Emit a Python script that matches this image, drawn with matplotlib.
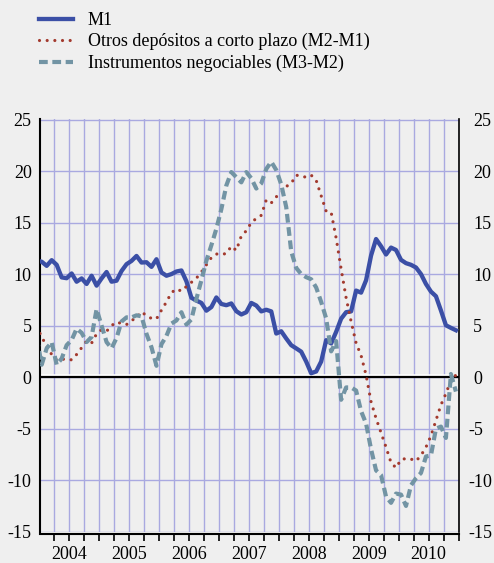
import numpy as np
import matplotlib
matplotlib.use('Agg')
import matplotlib.pyplot as plt
import matplotlib.transforms as mtransforms
from matplotlib.ticker import FixedLocator, NullFormatter

plt.rcParams['font.family'] = ['Liberation Serif', 'DejaVu Serif']
plt.rcParams['axes.unicode_minus'] = False

# monthly values, Dec 2003 .. Dec 2010
m1 = [11.3,
      11.2, 10.8, 11.35, 10.9, 9.68, 9.6, 10.06, 9.26, 9.58, 9.04, 9.84, 8.88,
      9.58, 10.2, 9.26, 9.36, 10.3, 10.96, 11.28, 11.76, 11.12, 11.15, 10.7, 11.44,
      10.16, 9.84, 10.0, 10.25, 10.35, 9.3, 7.7, 7.43, 7.2, 6.45, 6.8, 7.73,
      7.1, 6.98, 7.15, 6.4, 6.08, 6.3, 7.2, 6.95, 6.38, 6.54, 6.38, 4.23,
      4.45, 3.75, 3.1, 2.79, 2.47, 1.51, 0.38, 0.55, 1.51, 3.59, 3.27, 4.39,
      5.67, 6.3, 6.38, 8.4, 8.2, 9.4, 11.8, 13.4, 12.7, 11.9, 12.57, 12.34,
      11.38, 11.06, 10.9, 10.64, 10.0, 9.04, 8.3, 7.85, 6.47, 5.03, 4.78, 4.55]
otros = [4.9,
         3.9, 3.0, 2.2, 1.65, 1.75, 1.72, 1.68, 2.2, 2.85, 3.5, 3.3, 4.2,
         4.6, 4.45, 5.0, 5.35, 5.2, 5.1, 5.5, 5.75, 6.35, 5.95, 5.7, 5.65,
         6.5, 7.3, 8.2, 8.55, 8.35, 8.8, 9.2, 9.6, 10.2, 10.9, 11.6, 11.95,
         11.9, 12.0, 12.7, 12.3, 13.7, 14.2, 15.0, 15.4, 15.7, 17.2, 16.9, 17.5,
         17.85, 18.5, 18.8, 19.6, 19.5, 19.4, 19.6, 19.1, 17.6, 16.1, 16.0, 13.5,
         10.5, 7.7, 5.4, 3.3, 2.1, 0.2, -2.4, -4.0, -5.4, -6.8, -8.3, -8.8,
         -8.0, -7.9, -7.95, -8.15, -7.6, -6.8, -5.7, -4.2, -2.7, -1.6, -0.3, 0.2]
instr = [3.8,
         1.2, 2.8, 3.4, 1.2, 1.8, 3.1, 3.6, 4.7, 4.3, 3.4, 3.9, 6.6,
         5.0, 3.4, 2.8, 3.8, 5.4, 5.8, 5.8, 6.0, 5.9, 4.2, 2.9, 1.1,
         3.2, 4.0, 5.2, 5.5, 6.3, 5.1, 5.6, 7.6, 9.4, 11.3, 12.8, 14.4,
         16.3, 18.6, 19.9, 19.4, 18.9, 19.9, 19.3, 18.3, 18.8, 20.2, 20.9, 20.1,
         18.7, 16.5, 12.2, 10.6, 10.0, 9.7, 9.5, 8.7, 7.3, 5.7, 2.5, 3.5,
         -2.2, -1.0, -1.0, -1.3, -3.3, -4.5, -7.0, -9.05, -9.5, -11.6, -12.2, -11.3,
         -11.4, -12.5, -10.5, -9.8, -9.3, -7.7, -7.6, -5.0, -4.8, -5.9, 0.3, -1.4]
years = ['2004', '2005', '2006', '2007', '2008', '2009', '2010']
series_names = ['M1', 'Otros depósitos a corto plazo (M2-M1)',
                'Instrumentos negociables (M3-M2)']
yticks = [-15, -10, -5, 0, 5, 10, 15, 20, 25]

# month index from Jan 2004, points at mid-month
months = np.arange(-1, 84) + 0.46

bg = '#efefef'
grid_c = '#a9a9e0'

fig = plt.figure(figsize=(4.94, 5.63), dpi=100)
fig.patch.set_facecolor(bg)
ax = fig.add_axes([40.3 / 494, 1 - 531.7 / 563, (458.6 - 40.3) / 494, (531.7 - 119) / 563])
ax.set_facecolor(bg)

l1, = ax.plot(months, m1, color='#3b4fa6', lw=3.1, solid_joinstyle='round', zorder=4)
l2, = ax.plot(months, otros, color='#a33a2e', lw=2.3, linestyle=(0, (0.001, 2.4)),
              dash_capstyle='round', zorder=5)
l3, = ax.plot(months, instr, color='#7294a4', lw=3.0, linestyle=(0, (2.1, 1.1)),
              dash_capstyle='butt', zorder=6)

ax.set_xlim(0.18, 84)
ax.set_ylim(-15, 25.05)

# zero line with light edge above
white_tr = mtransforms.offset_copy(ax.get_yaxis_transform(), fig=fig, x=0, y=2, units='dots')
ax.plot([0, 1], [0, 0], color='white', lw=1.8, transform=white_tr, zorder=2.4)
ax.axhline(0, color='black', lw=1.6, zorder=2.5)

# x axis: quarter ticks, year labels centred
ax.xaxis.remove_overlapping_locs = False
ax.xaxis.set_major_locator(FixedLocator(np.arange(0, 85, 3)))
ax.xaxis.set_major_formatter(NullFormatter())
ax.xaxis.set_minor_locator(FixedLocator(np.arange(6, 84, 12)))
ax.set_xticklabels(years, minor=True)
ax.tick_params(axis='x', which='major', length=5, width=1.2, direction='out', color='black')
ax.tick_params(axis='x', which='minor', length=0, pad=8, labelsize=13)

ax.set_yticks(yticks)
ax.set_yticklabels([str(v) for v in yticks])
ax.tick_params(axis='y', length=0, pad=6.2, labelsize=13)

ax.grid(True, which='major', color=grid_c, lw=1.0, zorder=1)
ax.set_axisbelow(True)

ax.spines['top'].set_visible(False)
ax.spines['left'].set_linewidth(1.5)
ax.spines['right'].set_linewidth(1.2)
ax.spines['bottom'].set_linewidth(1.5)
ax.spines['bottom'].set_position(('outward', 2))

# right-hand scale
ax2 = ax.twinx()
ax2.set_ylim(ax.get_ylim())
ax2.set_yticks(yticks)
ax2.set_yticklabels([str(v) for v in yticks])
ax2.tick_params(axis='y', length=0, pad=10.4, labelsize=13)
for s in ['top', 'left', 'bottom', 'right']:
    ax2.spines[s].set_visible(False)
shift = mtransforms.ScaledTranslation(-5 / 100, 0, fig.dpi_scale_trans)
for v, lab in zip(yticks, ax2.get_yticklabels()):
    if v < 0:
        lab.set_transform(lab.get_transform() + shift)

fig.legend([l1, l2, l3], series_names, loc='upper left',
           bbox_to_anchor=(39 / 494, 1 - 12 / 563), frameon=False,
           fontsize=13, handlelength=1.9, handletextpad=0.8,
           labelspacing=0.23, borderpad=0, borderaxespad=0)

fig.savefig('out.png', dpi=100, facecolor=bg)
